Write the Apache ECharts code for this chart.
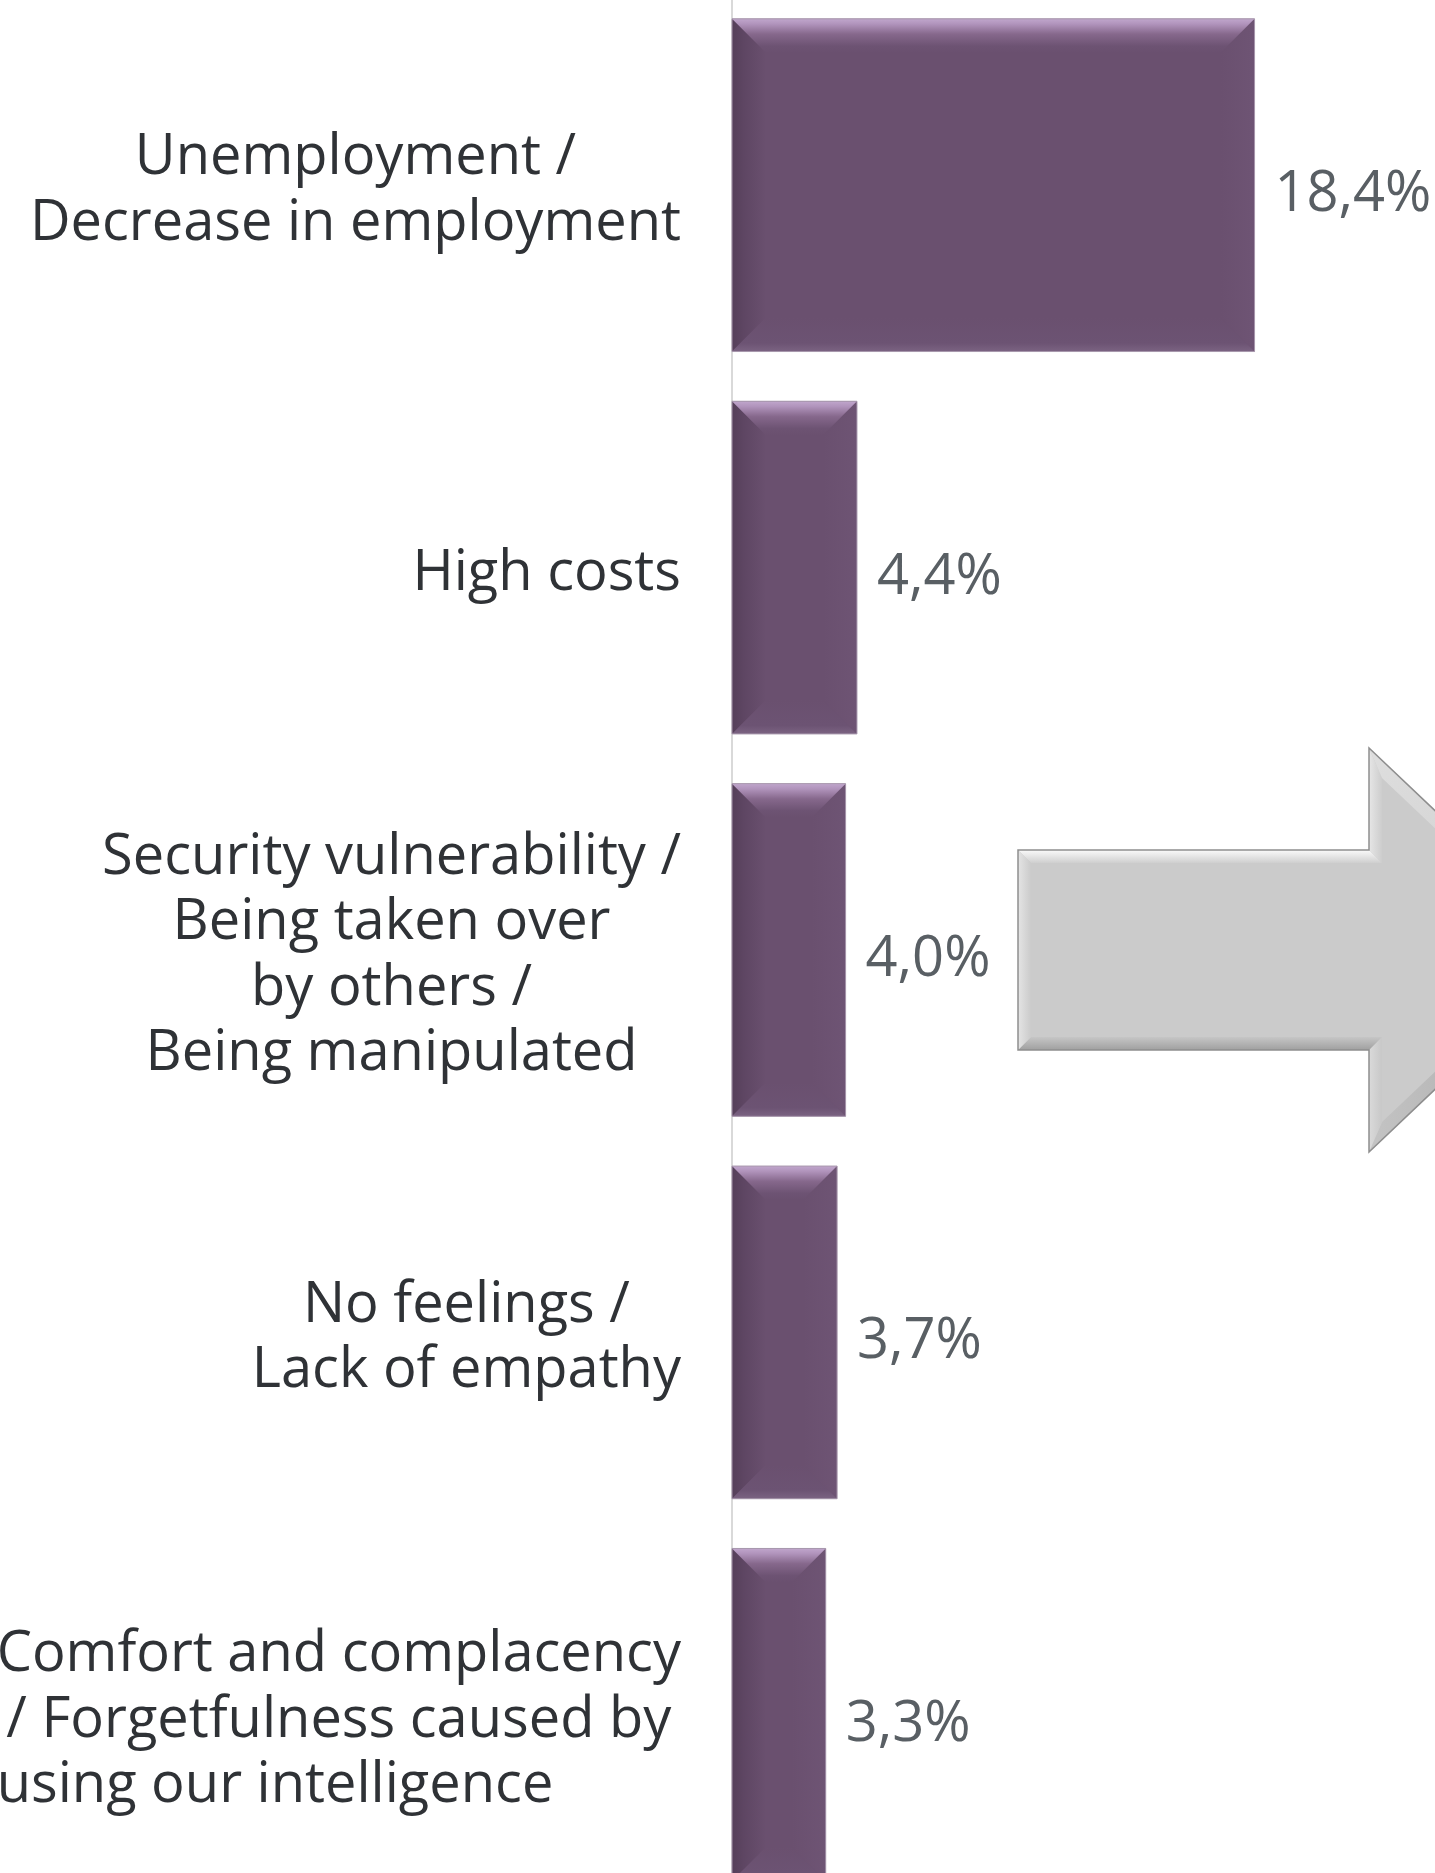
<!DOCTYPE html>
<html>
<head>
<meta charset="utf-8">
<script src="https://cdn.jsdelivr.net/npm/echarts@6/dist/echarts.min.js"></script>
<style>
  html, body { margin: 0; padding: 0; background: #ffffff; }
  #chart { width: 1435px; height: 1873px; }
</style>
</head>
<body>
<div id="chart"></div>
<script>
// Concerns about AI, share of respondents (%)
const categoryLines = [
  ['Unemployment /', 'Decrease in employment'],
  ['High costs'],
  ['Security vulnerability /', 'Being taken over', 'by others /', 'Being manipulated'],
  ['No feelings /', 'Lack of empathy'],
  ['Comfort and complacency', '/ Forgetfulness caused by', 'using our intelligence']
];
const categories = categoryLines.map(lines => lines.join(' '));
const shares = [18.4, 4.4, 4.0, 3.7, 3.3];
const axisMin = 0;
const axisMax = 20;

const barRatio = 0.87;
const FONT = '"Open Sans", "Noto Sans", sans-serif';
const BAR = '#6A506F';

const fmtShare = v => v.toFixed(1).replace('.', ',') + '%';

const chart = echarts.init(document.getElementById('chart'), null, { renderer: 'svg' });

// bevelled face drawn on top of each bar
function bevelBar(params, api) {
  const v = api.value(0);
  const idx = api.value(1);
  const p0 = api.coord([0, idx]);
  const p1 = api.coord([v, idx]);
  const h = api.size([0, 1])[1] * barRatio;
  const x0 = p0[0], x1 = p1[0];
  const y0 = p0[1] - h / 2, y1 = p0[1] + h / 2;
  const b = Math.min(34, (x1 - x0) / 2.2);
  const ix0 = x0 + b, ix1 = x1 - b, iy0 = y0 + b, iy1 = y1 - b;
  const grad = (x, y, x2, y2, stops) => ({
    type: 'linear', x, y, x2, y2,
    colorStops: stops.map(s => ({ offset: s[0], color: s[1] }))
  });
  return {
    type: 'group',
    children: [
      { type: 'polygon', shape: { points: [[x0, y0], [ix0, iy0], [ix0, iy1], [x0, y1]] },
        style: { fill: grad(0, 0, 1, 0, [[0, '#553F59'], [0.35, '#5E4663'], [1, BAR]]) } },
      { type: 'polygon', shape: { points: [[x1, y0], [x1, y1], [ix1, iy1], [ix1, iy0]] },
        style: { fill: grad(1, 0, 0, 0, [[0, '#6E5474'], [1, BAR]]) } },
      { type: 'polygon', shape: { points: [[x0, y1], [ix0, iy1], [ix1, iy1], [x1, y1]] },
        style: { fill: grad(0, 0, 0, 1, [[0, BAR], [0.75, '#6C5373'], [1, '#7B6382']]) } },
      { type: 'polygon', shape: { points: [[x0, y0], [x1, y0], [ix1, iy0], [ix0, iy0]] },
        style: { fill: grad(0, 0, 0, 1, [[0, '#C0A6CC'], [0.15, '#B194BC'], [0.45, '#86688C'], [0.8, '#6D5373'], [1, BAR]]) } },
      { type: 'rect', shape: { x: x0, y: y0, width: x1 - x0, height: h },
        style: { fill: 'none', stroke: '#A898AD', lineWidth: 1 } }
    ]
  };
}

// outline of the grey arrow and its inner bevel contour
const arrowOuter = [[1018, 850], [1369, 850], [1369, 748], [1582, 950], [1369, 1152], [1369, 1050], [1018, 1050]];
const arrowInner = [[1031, 863], [1382, 863], [1382, 778], [1563, 950], [1382, 1122], [1382, 1037], [1031, 1037]];
const arrowFacetFill = [
  { type: 'linear', x: 0, y: 0, x2: 0, y2: 1, colorStops: [{ offset: 0, color: '#FAFAFA' }, { offset: 1, color: '#CFCFCF' }] },
  { type: 'linear', x: 0, y: 0, x2: 1, y2: 0, colorStops: [{ offset: 0, color: '#E6E6E6' }, { offset: 1, color: '#CDCDCD' }] },
  { type: 'linear', x: 0, y: 0, x2: 1, y2: 1, colorStops: [{ offset: 0, color: '#DEDEDE' }, { offset: 1, color: '#CBCBCB' }] },
  { type: 'linear', x: 0, y: 0, x2: 1, y2: 0, colorStops: [{ offset: 0, color: '#C4C4C4' }, { offset: 1, color: '#A3A3A3' }] },
  { type: 'linear', x: 0, y: 0, x2: 1, y2: 0, colorStops: [{ offset: 0, color: '#DADADA' }, { offset: 1, color: '#C8C8C8' }] },
  { type: 'linear', x: 0, y: 0, x2: 0, y2: 1, colorStops: [{ offset: 0, color: '#C6C6C6' }, { offset: 1, color: '#A0A0A0' }] },
  { type: 'linear', x: 0, y: 0, x2: 1, y2: 0, colorStops: [{ offset: 0, color: '#E4E4E4' }, { offset: 1, color: '#CBCBCB' }] }
];
const arrowGraphics = [
  { type: 'polygon', shape: { points: arrowOuter }, style: { fill: '#CBCBCB' }, z: 1 }
];
for (let i = 0; i < arrowOuter.length; i++) {
  const j = (i + 1) % arrowOuter.length;
  arrowGraphics.push({
    type: 'polygon',
    shape: { points: [arrowOuter[i], arrowOuter[j], arrowInner[j], arrowInner[i]] },
    style: { fill: arrowFacetFill[i] },
    z: 2
  });
}
arrowGraphics.push({
  type: 'polygon', shape: { points: arrowOuter },
  style: { fill: 'none', stroke: '#8E8E8E', lineWidth: 1.5 }, z: 3
});

chart.setOption({
  backgroundColor: '#ffffff',
  animation: false,
  grid: {
    left: 732, top: -6, width: 568, height: 1912,
    containLabel: false, outerBoundsMode: 'none'
  },
  xAxis: {
    type: 'value', min: axisMin, max: axisMax, show: false
  },
  yAxis: {
    type: 'category',
    data: categories,
    inverse: true,
    axisLine: { show: true, lineStyle: { color: '#D9D9D9', width: 2 } },
    axisTick: { show: false },
    splitLine: { show: false },
    axisLabel: {
      interval: 0,
      margin: 51,
      align: 'right',
      verticalAlign: 'middle',
      formatter: (value, index) => categoryLines[index]
        .map((line, k) => {
          const style = (index === 4 && k === 2) ? 'l' : 'c';
          return '{' + style + '|' + line + '}';
        })
        .join('\n'),
      rich: {
        c: { align: 'center', fontSize: 56, fontFamily: FONT, color: '#2F3236', lineHeight: 65.5 },
        l: { align: 'left', fontSize: 56, fontFamily: FONT, color: '#2F3236', lineHeight: 65.5 }
      }
    }
  },
  series: [
    {
      type: 'bar',
      data: shares,
      barWidth: (barRatio * 100) + '%',
      silent: true,
      z: 2,
      itemStyle: { color: BAR },
      label: {
        show: true,
        position: 'right',
        distance: 20,
        offset: [0, 4],
        formatter: p => fmtShare(p.value),
        fontSize: 56,
        fontFamily: FONT,
        color: '#595F64'
      }
    },
    {
      type: 'custom',
      data: shares.map((v, i) => [v, i]),
      encode: { x: 0, y: 1 },
      silent: true,
      z: 3,
      renderItem: bevelBar
    }
  ],
  graphic: { elements: arrowGraphics }
});
</script>
</body>
</html>
